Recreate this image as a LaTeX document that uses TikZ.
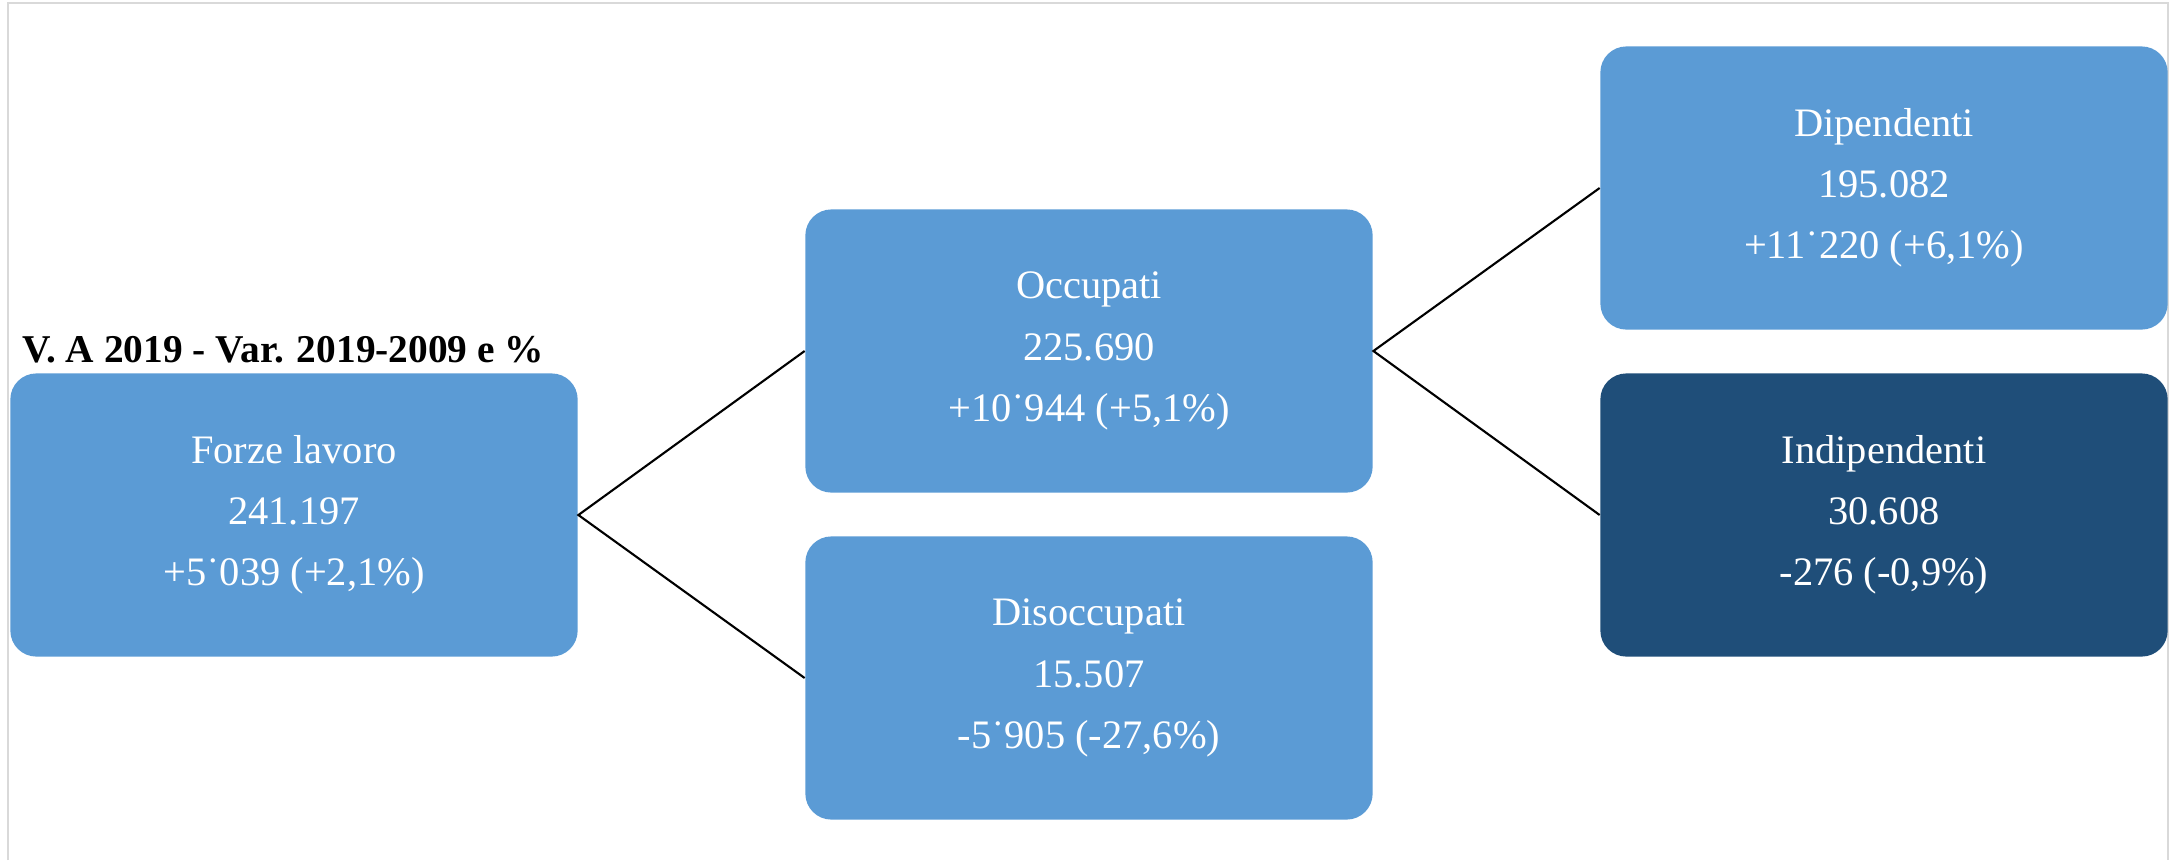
\documentclass[tikz,border=0pt]{standalone}
\usepackage{fontspec}
\setmainfont{Liberation Serif}
\definecolor{azzurro}{HTML}{5B9BD5}
\definecolor{bluscuro}{HTML}{1F4E79}
\definecolor{cornice}{HTML}{D9D9D9}

\begin{document}
\begin{tikzpicture}[x=0.01cm,y=-0.01cm,
    casella/.style={rounded corners=0.26cm, fill=azzurro, text=white, inner sep=0pt,
        minimum width=5.67cm, minimum height=2.83cm, align=center,
        font=\fontsize{11.5}{17.4}\selectfont},
    ramo/.style={line width=0.6pt}]
    \useasboundingbox (0,0) rectangle (2170,860);
    \draw [cornice, line width=0.6pt] (8,860) -- (8,3) -- (2168,3) -- (2168,860);

    \node [anchor=base west, inner sep=0pt, font=\fontsize{11.2}{13}\selectfont\bfseries] (titolo) at (22,362) {V. A 2019 - Var. 2019-2009 e \%};

    \node [casella] (forze) at (294,515) {Forze lavoro\\241.197\\+5˙039 (+2,1\%)};
    \node [casella] (occ) at (1089,351) {Occupati\\225.690\\+10˙944 (+5,1\%)};
    \node [casella] (disocc) at (1089,678) {Disoccupati\\15.507\\-5˙905 (-27,6\%)};
    \node [casella] (dip) at (1884,188) {Dipendenti\\195.082\\+11˙220 (+6,1\%)};
    \node [casella, fill=bluscuro] (indip) at (1884,515) {Indipendenti\\30.608\\-276 (-0,9\%)};

    \draw [ramo] (occ.west) -- (forze.east) -- (disocc.west);
    \draw [ramo] (dip.west) -- (occ.east) -- (indip.west);
\end{tikzpicture}
\end{document}
